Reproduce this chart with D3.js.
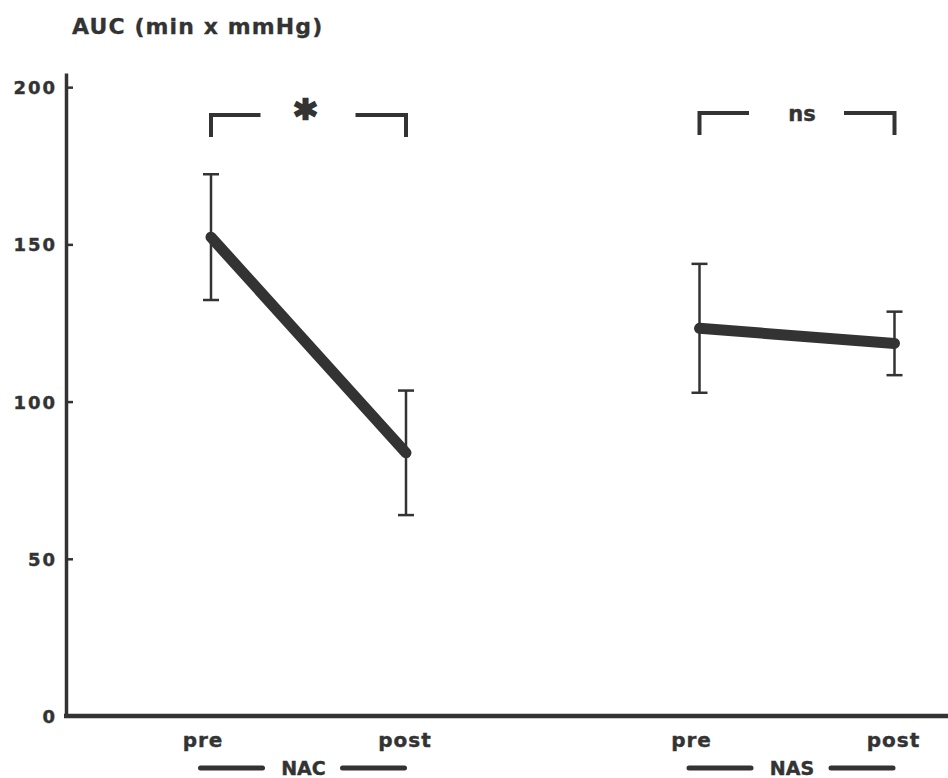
<!DOCTYPE html>
<html>
<head>
<meta charset="utf-8">
<script src="https://cdn.jsdelivr.net/npm/d3@7"></script>
<style>
  body { margin:0; background:#fff; }
  svg text { font-family: "DejaVu Sans", sans-serif; font-weight: bold; fill:#333; }
</style>
</head>
<body>
<div id="canvas"></div>
<script>
// data
var groups = ['NAC','NAS'];
var phases = ['pre','post'];
var nacMean = [152.3, 83.7];
var nacErr  = [20.0, 19.8];
var nasMean = [123.3, 118.5];
var nasErr  = [20.5, 10.1];
var signif  = ['*','ns'];
var yTicks  = [0,50,100,150,200];

var W = 948, H = 778;
var ink = '#333';

var svg = d3.select('#canvas')
    .append('svg')
    .attr('width',W)
    .attr('height',H);

var scaleY = d3.scaleLinear()
    .domain([0,204.5])
    .range([716,73]);
var scaleG = d3.scalePoint()
    .domain(groups)
    .range([308.5,797]);
var scaleP = d3.scalePoint()
    .domain(phases)
    .range([-97.5,97.5]);

function px(g,p){ return scaleG(g)+scaleP(p); }

var series = [
    {group:'NAC', mean:nacMean, err:nacErr, sig:signif[0]},
    {group:'NAS', mean:nasMean, err:nasErr, sig:signif[1]}
];

// y axis
var axisY = d3.axisLeft(scaleY)
    .tickValues(yTicks)
    .tickSizeInner(-7)
    .tickSizeOuter(0)
    .tickPadding(9);

var gy = svg.append('g')
    .attr('class','axis axis-y')
    .attr('transform','translate(66,0)')
    .call(axisY);
gy.select('.domain').attr('stroke',ink).attr('stroke-width',3.5);
gy.selectAll('.tick line').attr('stroke',ink).attr('stroke-width',2.5);
gy.selectAll('.tick text')
    .attr('fill',ink)
    .attr('stroke',ink).attr('stroke-width',0.4)
    .style('font-size','18px')
    .style('letter-spacing','2px')
    .attr('dy','0.36em');

// x axis baseline
svg.append('line')
    .attr('x1',64).attr('x2',W)
    .attr('y1',scaleY(0)).attr('y2',scaleY(0))
    .attr('stroke',ink).attr('stroke-width',4.5);

// title
svg.append('text')
    .attr('x',72).attr('y',34)
    .attr('stroke',ink).attr('stroke-width',0.3)
    .style('font-size','22px')
    .style('letter-spacing','1.1px')
    .text('AUC (min x mmHg)');

series.forEach(function(s){
    var g = svg.append('g').attr('class','group');
    var pts = phases.map(function(p,i){
        return {x:px(s.group,p), m:s.mean[i], e:s.err[i]};
    });

    // error bars
    var eb = g.selectAll('.err').data(pts).enter().append('g').attr('class','err')
        .attr('stroke',ink).attr('stroke-width',2.5);
    eb.append('line')
        .attr('x1',function(d){return d.x}).attr('x2',function(d){return d.x})
        .attr('y1',function(d){return scaleY(d.m+d.e)})
        .attr('y2',function(d){return scaleY(d.m-d.e)});
    eb.append('line')
        .attr('x1',function(d){return d.x-8}).attr('x2',function(d){return d.x+8})
        .attr('y1',function(d){return scaleY(d.m+d.e)})
        .attr('y2',function(d){return scaleY(d.m+d.e)});
    eb.append('line')
        .attr('x1',function(d){return d.x-8}).attr('x2',function(d){return d.x+8})
        .attr('y1',function(d){return scaleY(d.m-d.e)})
        .attr('y2',function(d){return scaleY(d.m-d.e)});

    // thick mean line
    var line = d3.line()
        .x(function(d){return d.x})
        .y(function(d){return scaleY(d.m)});
    g.append('path')
        .datum(pts)
        .attr('d',line)
        .attr('fill','none')
        .attr('stroke',ink)
        .attr('stroke-width',11)
        .attr('stroke-linecap','round');

    // significance bracket
    var x0 = pts[0].x, x1 = pts[1].x, cx = (x0+x1)/2;
    var by = s.group==='NAC' ? 115 : 113;
    g.append('path')
        .attr('d','M'+x0+','+(by+22)+'V'+by+'H'+(cx-48)
              +'M'+(cx+47)+','+by+'H'+x1+'V'+(by+22))
        .attr('fill','none')
        .attr('stroke',ink)
        .attr('stroke-width',4);
    if(s.sig==='*'){
        g.append('text')
            .attr('x',cx-3).attr('y',by+16)
            .attr('text-anchor','middle')
            .attr('stroke',ink).attr('stroke-width',2.5)
            .style('font-size','42px')
            .text(s.sig);
    } else {
        g.append('text')
            .attr('x',cx+5).attr('y',by+8)
            .attr('text-anchor','middle')
            .attr('stroke',ink).attr('stroke-width',0.4)
            .style('font-size','21px')
            .text(s.sig);
    }

    // phase labels
    phases.forEach(function(p,i){
        svg.append('text')
            .attr('x',pts[i].x - (i===0 ? 8 : 1))
            .attr('y',747)
            .attr('text-anchor','middle')
            .attr('stroke',ink).attr('stroke-width',0.4)
            .style('font-size','20px')
            .style('letter-spacing','1px')
            .text(p);
    });

    // group label with dashes
    var gc = cx - 5;
    svg.append('text')
        .attr('x',gc).attr('y',775)
        .attr('text-anchor','middle')
        .attr('stroke',ink).attr('stroke-width',0.4)
        .style('font-size','19px')
        .text(s.group);
    svg.append('line')
        .attr('x1',gc-103).attr('x2',gc-41)
        .attr('y1',768).attr('y2',768)
        .attr('stroke',ink).attr('stroke-width',5).attr('stroke-linecap','round');
    svg.append('line')
        .attr('x1',gc+39).attr('x2',gc+101)
        .attr('y1',768).attr('y2',768)
        .attr('stroke',ink).attr('stroke-width',5).attr('stroke-linecap','round');
});
</script>
</body>
</html>
